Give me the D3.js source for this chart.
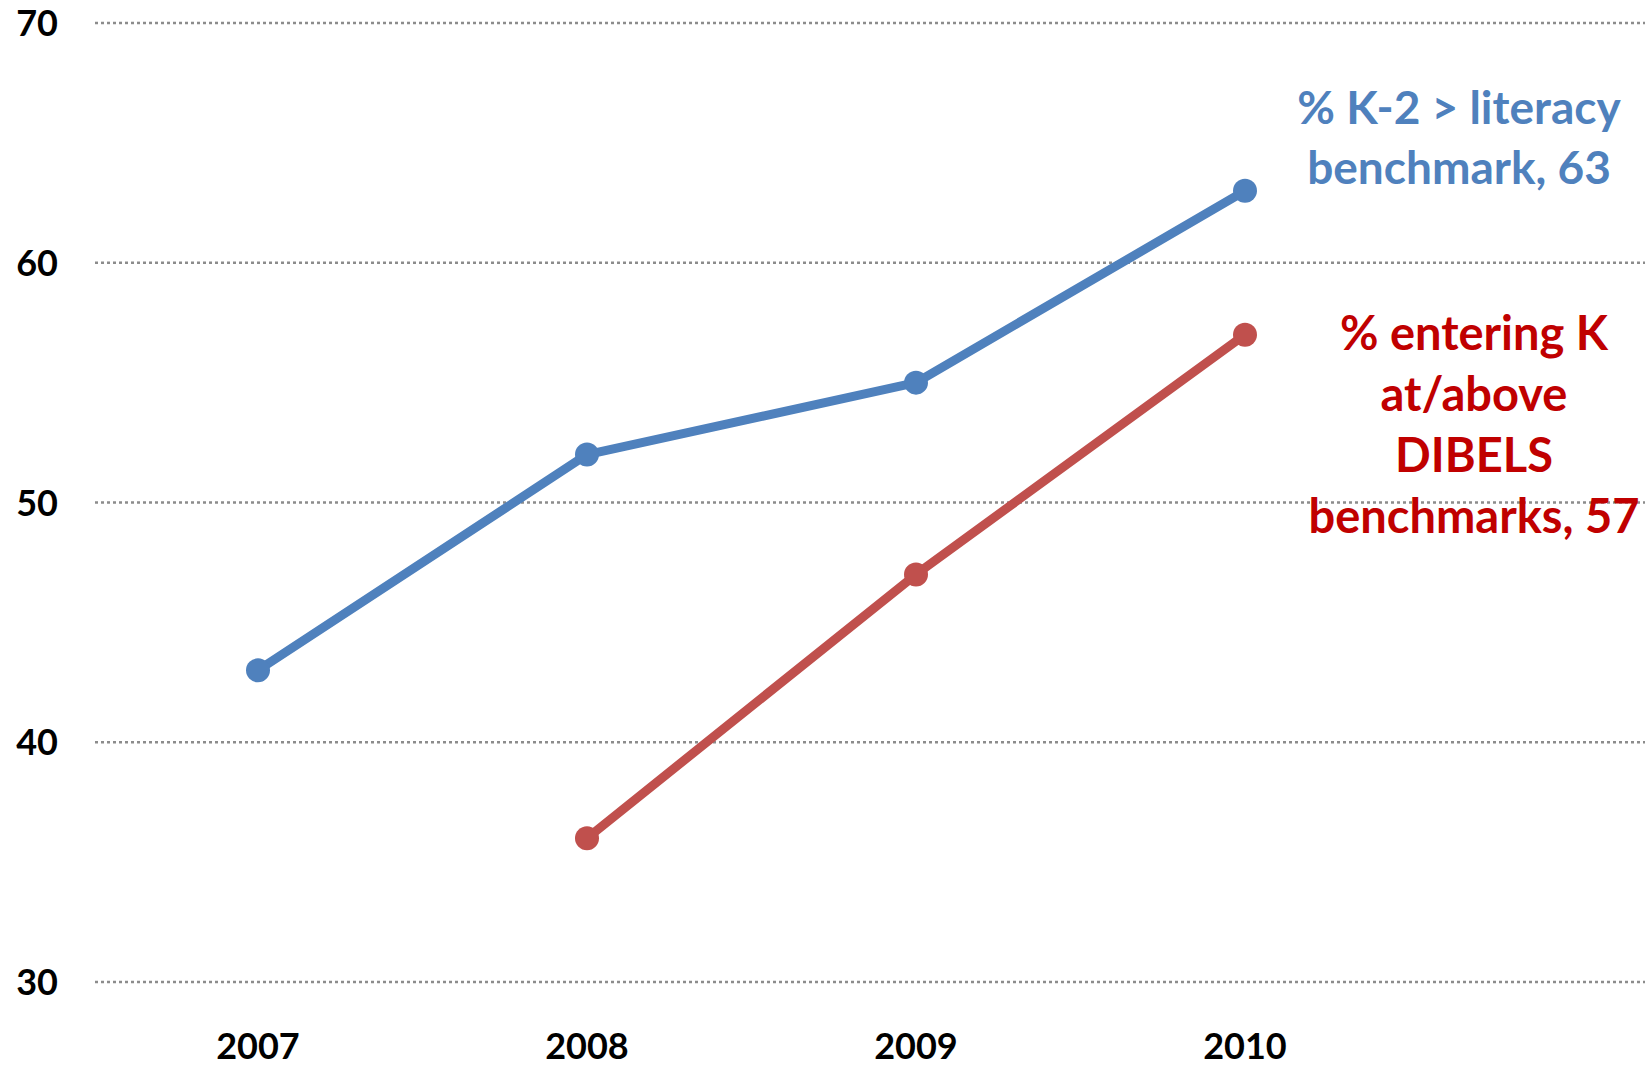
<!DOCTYPE html>
<html>
<head>
<meta charset="utf-8">
<script src="https://cdn.jsdelivr.net/npm/d3@7"></script>
<style>
  body { margin: 0; background: #fff; }
  svg text { font-family: Lato, "Open Sans", sans-serif; font-weight: bold; }
</style>
</head>
<body>
<svg id="chart"></svg>
<script>
const years = ['2007', '2008', '2009', '2010'];
const literacy = [43, 52, 55, 63];
const entering = [null, 36, 47, 57];
const yTicks = [30, 40, 50, 60, 70];
const literacyLabel = ['% K-2 > literacy', 'benchmark, 63'];
const enteringLabel = ['% entering K', 'at/above', 'DIBELS', 'benchmarks, 57'];

const width = 1647, height = 1069;
const svg = d3.select('#chart').attr('width', width).attr('height', height);

const x = d3.scalePoint().domain(years).range([258, 1245]);
const y = d3.scaleLinear().domain([30, 70]).range([982, 23]);

// gridlines
svg.append('g')
  .selectAll('line')
  .data(yTicks)
  .enter()
  .append('line')
  .attr('x1', 95)
  .attr('x2', 1645)
  .attr('y1', d => y(d))
  .attr('y2', d => y(d))
  .attr('stroke', '#8c8c8c')
  .attr('stroke-width', 2.5)
  .attr('stroke-dasharray', '3,3');

// y labels
svg.append('g')
  .selectAll('text')
  .data(yTicks)
  .enter()
  .append('text')
  .attr('x', 58)
  .attr('y', d => y(d) + 13)
  .attr('text-anchor', 'end')
  .attr('font-size', 36)
  .attr('fill', '#000')
  .text(d => d);

// x labels
svg.append('g')
  .selectAll('text')
  .data(years)
  .enter()
  .append('text')
  .attr('x', d => x(d))
  .attr('y', 1059)
  .attr('text-anchor', 'middle')
  .attr('font-size', 36)
  .attr('fill', '#000')
  .text(d => d);

const series = [
  { values: literacy, color: '#4F81BD' },
  { values: entering, color: '#C0504D' }
];

series.forEach(s => {
  const pts = years.map((yr, i) => ({ yr, v: s.values[i] })).filter(d => d.v != null);
  const line = d3.line().x(d => x(d.yr)).y(d => y(d.v));
  svg.append('path')
    .datum(pts)
    .attr('d', line)
    .attr('fill', 'none')
    .attr('stroke', s.color)
    .attr('stroke-width', 9)
    .attr('stroke-linejoin', 'round');
  svg.append('g')
    .selectAll('circle')
    .data(pts)
    .enter()
    .append('circle')
    .attr('cx', d => x(d.yr))
    .attr('cy', d => y(d.v))
    .attr('r', 12)
    .attr('fill', s.color);
});

// series labels
svg.append('g')
  .selectAll('text')
  .data(literacyLabel)
  .enter()
  .append('text')
  .attr('x', 1459)
  .attr('y', (d, i) => 124 + i * 60)
  .attr('text-anchor', 'middle')
  .attr('font-size', 46)
  .attr('fill', '#4F81BD')
  .text(d => d);

svg.append('g')
  .selectAll('text')
  .data(enteringLabel)
  .enter()
  .append('text')
  .attr('x', 1474)
  .attr('y', (d, i) => 350 + i * 61)
  .attr('text-anchor', 'middle')
  .attr('font-size', 47)
  .attr('fill', '#C00000')
  .text(d => d);
</script>
</body>
</html>
